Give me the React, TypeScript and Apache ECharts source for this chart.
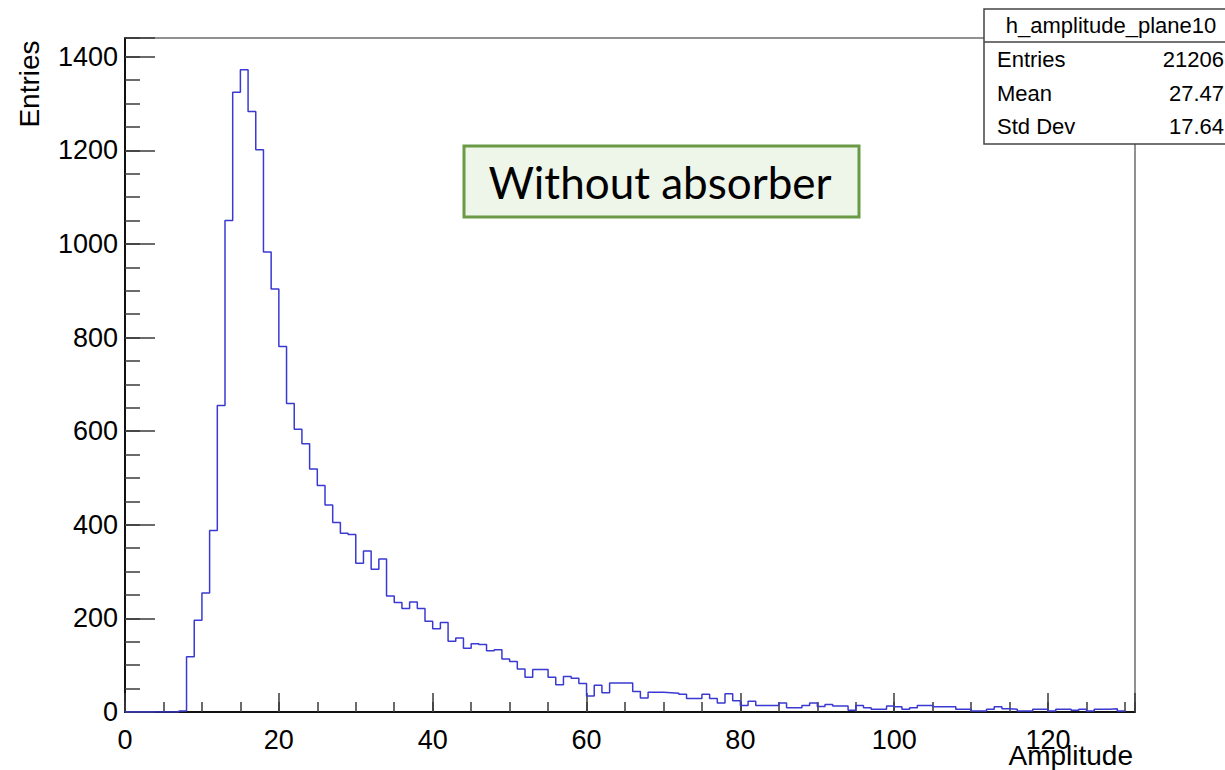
import React, { useEffect, useRef } from "react";
import * as echarts from "echarts";

// Histogram h_amplitude_plane10: unit-width bins starting at 0
const binLow = 0;
const binWidth = 1;
const binCounts = [
  0, 0, 0, 0, 0, 0, 0, 2, 118, 196,
  254, 388, 655, 1050, 1324, 1372, 1283, 1201, 983, 904,
  781, 659, 604, 573, 519, 484, 442, 405, 382, 379,
  318, 344, 305, 327, 248, 234, 221, 235, 221, 194,
  178, 191, 151, 158, 136, 146, 144, 131, 133, 113,
  108, 92, 74, 91, 91, 74, 58, 76, 72, 61,
  34, 57, 41, 62, 62, 62, 44, 30, 42, 42,
  41, 40, 38, 29, 29, 38, 29, 19, 39, 24,
  14, 23, 14, 14, 14, 19, 9, 9, 14, 19,
  12, 16, 13, 13, 4, 14, 9, 6, 6, 13,
  11, 6, 9, 14, 14, 11, 11, 11, 6, 6,
  2, 2, 6, 11, 7, 6, 2, 2, 6, 6,
  2, 6, 6, 4, 6, 2, 6, 6, 7, 2,
];

const histName = "h_amplitude_plane10";
const statLabels = ["Entries", "Mean", "Std Dev"];
const statValues = ["21206", "27.47", "17.64"];
const xTitle = "Amplitude";
const yTitle = "Entries";
const noteText = "Without absorber";

const xMin = 0;
const xMax = 131.3;
const yMin = 0;
const yMax = 1440;
const xMajor = 20;
const xMinor = 5;
const yMajor = 200;
const yMinor = 50;

const FONT = "'Liberation Sans', Arial, Helvetica, sans-serif";

export default function App() {
  const ref = useRef<HTMLDivElement>(null);

  useEffect(() => {
    if (!ref.current) return;
    const chart = echarts.init(ref.current, undefined, { renderer: "svg" });

    // step outline: left edge of every bin, plus the closing right edge
    const steps: number[][] = binCounts.map((c, i) => [binLow + i * binWidth, c]);
    steps.push([binLow + binCounts.length * binWidth, binCounts[binCounts.length - 1]]);

    const tickColor = "#3a3a3a";

    const statRowsY = [59, 93, 126];
    const statGraphics: any[] = [];
    statLabels.forEach((lab, i) => {
      statGraphics.push({
        type: "text",
        x: 997,
        y: statRowsY[i],
        z: 102,
        style: { text: lab, fontSize: 22, fontFamily: FONT, fill: "#000", align: "left", verticalAlign: "middle" },
      });
      statGraphics.push({
        type: "text",
        x: 1224,
        y: statRowsY[i],
        z: 102,
        style: { text: statValues[i], fontSize: 22, fontFamily: FONT, fill: "#000", align: "right", verticalAlign: "middle" },
      });
    });

    chart.setOption({
      animation: false,
      backgroundColor: "#fff",
      grid: {
        left: 125,
        right: 90,
        top: 38,
        bottom: 58,
        show: true,
        borderColor: "#222",
        borderWidth: 1,
        backgroundColor: "transparent",
      },
      xAxis: [
        {
          type: "value",
          position: "bottom",
          min: xMin,
          max: xMax,
          interval: xMajor,
          axisLine: { onZero: false, lineStyle: { color: "#111", width: 2 } },
          axisTick: { inside: true, length: 19, lineStyle: { color: tickColor, width: 1.5 } },
          axisLabel: {
            fontSize: 27,
            fontFamily: FONT,
            color: "#000",
            margin: 14,
            formatter: (v: number) => (v % xMajor === 0 ? String(v) : ""),
          },
          splitLine: { show: false },
        },
        {
          type: "value",
          position: "bottom",
          min: xMin,
          max: xMax,
          interval: xMinor,
          axisLine: { show: false, onZero: false },
          axisTick: { inside: true, length: 10, lineStyle: { color: tickColor, width: 1.5 } },
          axisLabel: { show: false },
          splitLine: { show: false },
        },
      ],
      yAxis: [
        {
          type: "value",
          position: "left",
          min: yMin,
          max: yMax,
          interval: yMajor,
          axisLine: { show: true, onZero: false, lineStyle: { color: "#111", width: 2 } },
          axisTick: { show: true, inside: true, length: 30, lineStyle: { color: tickColor, width: 1.5 } },
          axisLabel: {
            fontSize: 27,
            fontFamily: FONT,
            color: "#000",
            margin: 7,
            formatter: (v: number) => (v % yMajor === 0 ? String(v) : ""),
          },
          splitLine: { show: false },
        },
        {
          type: "value",
          position: "left",
          min: yMin,
          max: yMax,
          interval: yMinor,
          axisLine: { show: false, onZero: false },
          axisTick: { show: true, inside: true, length: 15, lineStyle: { color: tickColor, width: 1.5 } },
          axisLabel: { show: false },
          splitLine: { show: false },
        },
      ],
      series: [
        {
          type: "line",
          xAxisIndex: 0,
          yAxisIndex: 0,
          data: steps,
          step: "end",
          symbol: "none",
          showSymbol: false,
          silent: true,
          lineStyle: { color: "#3a3ad2", width: 1.5 },
          z: 3,
        },
      ],
      graphic: [
        {
          type: "text",
          x: 29,
          y: 84,
          rotation: Math.PI / 2,
          style: { text: yTitle, fontSize: 28, fontFamily: FONT, fill: "#000", align: "center", verticalAlign: "middle" },
        },
        {
          type: "text",
          x: 1133,
          y: 755,
          style: { text: xTitle, fontSize: 28, fontFamily: FONT, fill: "#000", align: "right", verticalAlign: "middle" },
        },
        {
          type: "rect",
          z: 100,
          shape: { x: 984, y: 9, width: 262, height: 135 },
          style: { fill: "#fff", stroke: "#444", lineWidth: 1.5 },
        },
        {
          type: "line",
          z: 101,
          shape: { x1: 984, y1: 42, x2: 1246, y2: 42 },
          style: { stroke: "#444", lineWidth: 1.5 },
        },
        {
          type: "text",
          x: 1111,
          y: 25,
          z: 102,
          style: { text: histName, fontSize: 22, fontFamily: FONT, fill: "#000", align: "center", verticalAlign: "middle" },
        },
        ...statGraphics,
        {
          type: "rect",
          z: 100,
          shape: { x: 464, y: 146, width: 395, height: 71 },
          style: { fill: "#eef5e9", stroke: "#6a9a46", lineWidth: 3 },
        },
        {
          type: "text",
          x: 660,
          y: 182,
          z: 102,
          style: { text: noteText, fontSize: 44, fontFamily: "Lato, 'Open Sans', sans-serif", fill: "#000", align: "center", verticalAlign: "middle" },
        },
      ],
    });

    return () => chart.dispose();
  }, []);

  return (
    <div
      ref={ref}
      style={{ position: "fixed", left: 0, top: 0, width: 1225, height: 770, background: "#fff" }}
    />
  );
}
